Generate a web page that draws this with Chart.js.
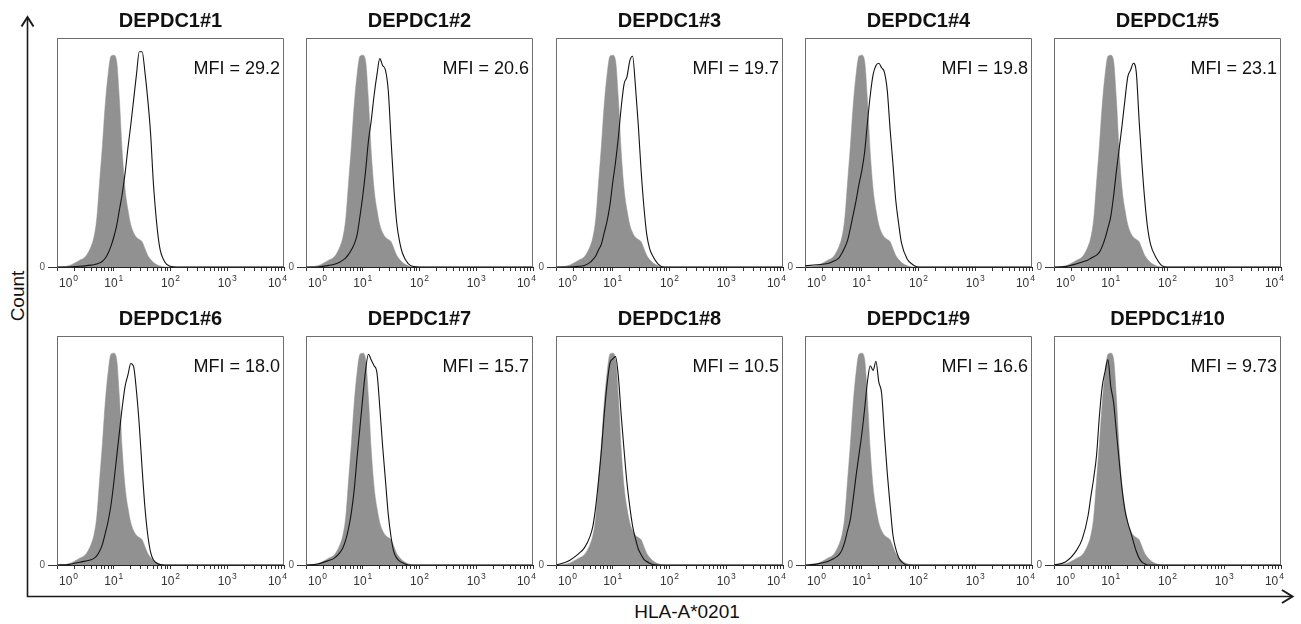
<!DOCTYPE html>
<html>
<head>
<meta charset="utf-8">
<title>HLA-A*0201 histograms</title>
<script src="https://cdn.jsdelivr.net/npm/chart.js@4.4.1/dist/chart.umd.min.js"></script>
<style>
  body { margin: 0; background: #fff; width: 1301px; height: 624px; position: relative; overflow: hidden;
         font-family: "Liberation Sans", Arial, sans-serif; }
  #frame { position: absolute; left: 0; top: 0; }
  .panel { position: absolute; }
  .axis-title { position: absolute; font-size: 19px; line-height: 1; color: #111; white-space: nowrap; }
  #countLabel { left: 16.5px; top: 295.5px; transform: translate(-50%, -50%) rotate(-90deg); }
  #xLabel { left: 687px; top: 611px; transform: translate(-50%, -50%); }
</style>
</head>
<body>
<svg id="frame" width="1301" height="624">
  <path d="M27.5 17 V596.5 H1292" fill="none" stroke="#1a1a1a" stroke-width="1.6"/>
  <path d="M21.5 26.5 L27.5 17 L33.5 26.5" fill="none" stroke="#1a1a1a" stroke-width="2"/>
  <path d="M1282 590 L1292.5 596.5 L1282 603" fill="none" stroke="#1a1a1a" stroke-width="2"/>
</svg>
<div class="axis-title" id="countLabel">Count</div>
<div class="axis-title" id="xLabel">HLA-A*0201</div>

<script>
// log10 positions of the histogram samples (0 = 10^0 ... 4 = 10^4)
const decades = [0, 0.2, 0.4, 0.5, 0.6, 0.65, 0.7, 0.75, 0.8, 0.85, 0.9, 0.95, 1.0, 1.05, 1.1, 1.15,
                 1.2, 1.25, 1.3, 1.35, 1.4, 1.45, 1.5, 1.55, 1.6, 1.65, 1.7, 1.8, 1.9, 2.0, 2.1, 4.0];

// isotype control (grey, same in every panel), % of panel height
const isotype = [0, 0.5, 3, 4.5, 9, 13, 21, 37, 53, 71, 84, 92, 92.5, 90, 73, 50,
                 34, 25, 18.5, 15, 13, 12, 11, 8, 5, 3.3, 2, 0.5, 0, 0, 0, 0];

// stained samples (black outline)
const dep1  = [0, 0, 0.3, 0.5, 0.8, 1, 1.3, 1.8, 2.5, 3.8, 6, 9, 13, 18, 25, 32, 41, 52, 62, 73, 84, 94, 94, 85, 73, 58, 36, 10, 2.2, 0.3, 0, 0];
const dep2  = [0, 0, 0.7, 1.2, 2.2, 3, 4, 5.5, 7.5, 10, 14, 22, 31, 42, 55, 64, 75, 84, 91, 88, 86, 77, 55, 34, 19, 11, 6, 1.5, 0.2, 0, 0, 0];
const dep3  = [0, 0, 0.3, 0.7, 2, 3.2, 4.8, 7.5, 10, 15, 20, 27, 37, 46, 57, 70, 80, 83, 90, 92, 79, 62, 42, 26, 14, 8, 5, 1.3, 0, 0, 0, 0];
const dep4  = [0.5, 1, 1.5, 2.5, 4, 6, 8.5, 11.6, 17, 23, 29, 36, 42, 50, 63, 75, 84, 88, 89, 87, 85, 77, 60, 45, 29, 19, 10.5, 3.5, 1, 0, 0, 0];
const dep5  = [0, 0.2, 1.4, 2.2, 3.1, 3.8, 4.5, 5.2, 6.5, 9, 12.5, 17, 22, 31, 42, 52, 62, 73, 83, 86, 89, 85, 64, 45, 29, 17, 10, 4, 0.6, 0, 0, 0];
const dep6  = [0, 0.2, 1.2, 1.7, 2.3, 2.9, 4, 6, 9, 13.8, 19, 26, 35.7, 47, 58, 69, 78, 83, 88, 86.6, 76, 61, 42, 25, 13, 5.5, 2.2, 0.3, 0, 0, 0, 0];
const dep7  = [0, 0.4, 2, 3, 5.5, 7.5, 11, 16, 23, 33, 47, 60, 73, 85, 92, 89.5, 87, 84, 69, 52, 37, 22, 12, 5.5, 3, 1.7, 1, 0, 0, 0, 0, 0];
const dep8  = [0, 1.5, 5, 7.5, 12.5, 17, 25.5, 37, 50, 66, 79, 88, 90, 91, 82, 65, 50, 36, 25.5, 17, 11.5, 7, 4.5, 2.5, 1.5, 0.8, 0.2, 0, 0, 0, 0, 0];
const dep9  = [0, 0.4, 1.5, 2.7, 4.5, 6.5, 10, 15, 20, 29, 39, 48, 57, 68, 80, 87, 85, 89, 80, 75, 57, 40, 26, 13, 7, 3.3, 1.5, 0, 0, 0, 0, 0];
const dep10 = [0, 1.3, 6.5, 11.5, 21.5, 30, 38, 48, 65, 78, 84.5, 89.7, 78, 71, 58, 45, 33, 24, 18.5, 14.5, 10, 6, 3, 1.3, 0.5, 0, 0, 0, 0, 0, 0, 0];

const stained = [dep1, dep2, dep3, dep4, dep5, dep6, dep7, dep8, dep9, dep10];
const titles = ['DEPDC1#1', 'DEPDC1#2', 'DEPDC1#3', 'DEPDC1#4', 'DEPDC1#5',
                'DEPDC1#6', 'DEPDC1#7', 'DEPDC1#8', 'DEPDC1#9', 'DEPDC1#10'];
const mfi = ['29.2', '20.6', '19.7', '19.8', '23.1', '18.0', '15.7', '10.5', '16.6', '9.73'];
const tickExponents = ['0', '1', '2', '3', '4'];

// panel grid placement (box left edges / tops)
const colLeft = [57, 306, 556, 805, 1054];
const rowTop = [38, 336];
const BOX_W = 227, BOX_H = 229, Y_AXIS_W = 18, X_AXIS_H = 24, TITLE_H = 29, PAD_R = 4;

const FONT = '"Liberation Sans", Arial, sans-serif';

// major + minor log ticks
const logTicks = [];
for (let n = 0; n < 4; n++) {
  for (let k = 1; k <= 9; k++) logTicks.push(n + Math.log10(k));
}
logTicks.push(4);

function points(values) {
  return decades.map((d, i) => ({ x: d, y: values[i] }));
}

// box outline + MFI text
const panelBox = {
  id: 'panelBox',
  afterDatasetsDraw(chart, args, opts) {
    const { ctx, chartArea: a } = chart;
    ctx.save();
    ctx.strokeStyle = '#6e6e6e';
    ctx.lineWidth = 1;
    ctx.beginPath();
    ctx.moveTo(a.left, a.top + 0.5);
    ctx.lineTo(a.right - 0.5, a.top + 0.5);
    ctx.lineTo(a.right - 0.5, a.bottom);
    ctx.stroke();
    ctx.fillStyle = '#111';
    ctx.font = '18px ' + FONT;
    ctx.textAlign = 'right';
    ctx.textBaseline = 'alphabetic';
    ctx.fillText(opts.label, a.right - 4, a.top + 36);
    ctx.restore();
  }
};

// "10" with a raised exponent under each decade tick
const decadeLabels = {
  id: 'decadeLabels',
  afterDraw(chart) {
    const { ctx } = chart;
    const scale = chart.scales.x;
    const base = chart.chartArea.bottom + 20;
    ctx.save();
    ctx.fillStyle = '#333';
    ctx.textBaseline = 'alphabetic';
    ctx.textAlign = 'left';
    tickExponents.forEach((e, n) => {
      const px = scale.getPixelForValue(n);
      ctx.font = '12px ' + FONT;
      const wBase = ctx.measureText('10').width;
      ctx.font = '8.5px ' + FONT;
      const wExp = ctx.measureText(e).width;
      const total = wBase + 1 + wExp;
      let left = px - total / 2;
      if (n === 0) left = px + 2;
      if (n === tickExponents.length - 1) left = px + 3 - total;
      ctx.font = '12px ' + FONT;
      ctx.fillText('10', left, base);
      ctx.font = '8.5px ' + FONT;
      ctx.fillText(e, left + wBase + 1, base - 6);
    });
    ctx.restore();
  }
};

function makePanel(i) {
  const col = i % 5, row = Math.floor(i / 5);
  const wrap = document.createElement('div');
  wrap.className = 'panel';
  const w = Y_AXIS_W + BOX_W + PAD_R;
  const h = TITLE_H + BOX_H + X_AXIS_H;
  wrap.style.left = (colLeft[col] - Y_AXIS_W) + 'px';
  wrap.style.top = (rowTop[row] - TITLE_H) + 'px';
  const canvas = document.createElement('canvas');
  canvas.width = w;
  canvas.height = h;
  wrap.appendChild(canvas);
  document.body.appendChild(wrap);

  new Chart(canvas, {
    type: 'line',
    data: {
      datasets: [
        {
          data: points(stained[i]),
          borderColor: '#141414',
          borderWidth: 1.1,
          pointRadius: 0,
          fill: false,
          cubicInterpolationMode: 'monotone',
          order: 0
        },
        {
          data: points(isotype),
          borderColor: '#919191',
          backgroundColor: '#919191',
          borderWidth: 0.5,
          pointRadius: 0,
          fill: 'origin',
          cubicInterpolationMode: 'monotone',
          order: 1
        }
      ]
    },
    options: {
      responsive: false,
      animation: false,
      events: [],
      layout: { padding: { top: 0, left: 0, bottom: 0, right: PAD_R } },
      plugins: {
        legend: { display: false },
        tooltip: { enabled: false },
        title: {
          display: true,
          text: titles[i],
          fullSize: false,
          color: '#111',
          font: { family: FONT, size: 20, weight: 'bold', lineHeight: 1.2 },
          padding: { top: 0, bottom: 5 }
        },
        panelBox: { label: 'MFI = ' + mfi[i] }
      },
      scales: {
        x: {
          type: 'linear',
          min: 0,
          max: 4,
          afterBuildTicks: s => { s.ticks = logTicks.map(v => ({ value: v })); },
          afterFit: s => { s.height = X_AXIS_H; },
          ticks: { autoSkip: false, maxRotation: 0, display: true, callback: () => '' },
          grid: { drawOnChartArea: false, tickLength: 4, color: '#333' },
          border: { color: '#222', width: 1 }
        },
        y: {
          min: 0,
          max: 100,
          afterBuildTicks: s => { s.ticks = [{ value: 0 }]; },
          afterFit: s => { s.width = Y_AXIS_W; },
          ticks: { color: '#555', font: { family: FONT, size: 10 }, padding: 3, callback: () => '0' },
          grid: { drawOnChartArea: false, tickLength: 9, color: '#333' },
          border: { color: '#6e6e6e', width: 1 }
        }
      }
    },
    plugins: [panelBox, decadeLabels]
  });
}

titles.forEach((t, i) => makePanel(i));
</script>
</body>
</html>
